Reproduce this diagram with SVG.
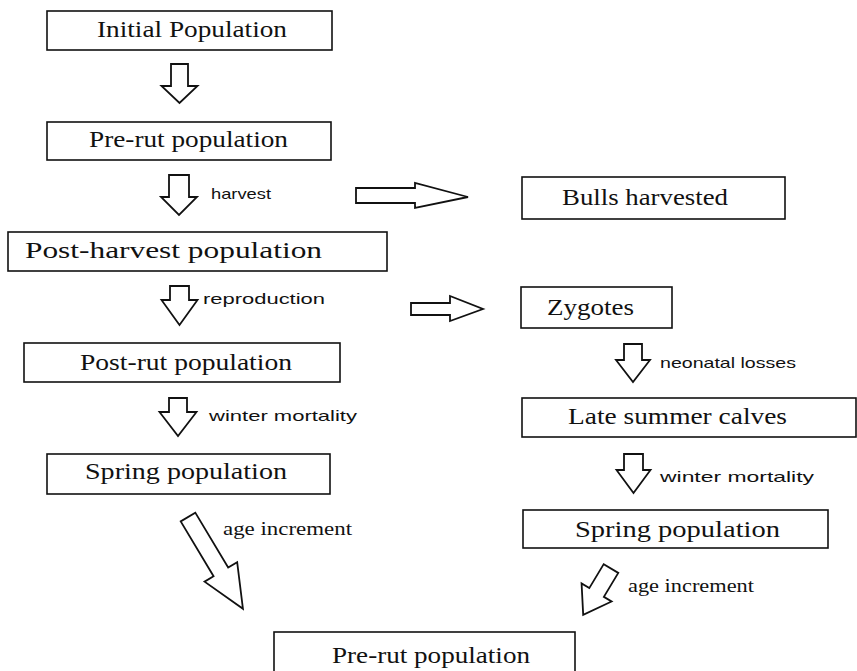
<svg xmlns="http://www.w3.org/2000/svg" width="857" height="671" viewBox="0 0 857 671">
<style>
.box{fill:#fff;stroke:#111;stroke-width:1.6}
.t{font-family:"Liberation Serif","Times New Roman",serif;font-size:23px;fill:#111}
.arr{fill:#fff;stroke:#111;stroke-width:1.8;stroke-linejoin:miter}
.lb{font-family:"Liberation Sans",Arial,sans-serif;font-size:15px;fill:#111}
.ls{font-family:"Liberation Serif","Times New Roman",serif;font-size:18px;fill:#111}
</style>
<rect width="857" height="671" fill="#fff"/>
<g id="initial-population">
<rect class="box" x="47" y="11" width="285" height="39"/>
<text class="t" x="97" y="37" textLength="190" lengthAdjust="spacingAndGlyphs">Initial Population</text>
</g>
<g id="pre-rut-population">
<rect class="box" x="47" y="122" width="284" height="38"/>
<text class="t" x="89" y="147" textLength="199" lengthAdjust="spacingAndGlyphs">Pre-rut population</text>
</g>
<g id="bulls-harvested">
<rect class="box" x="522" y="177" width="263" height="42"/>
<text class="t" x="562" y="205" textLength="166" lengthAdjust="spacingAndGlyphs">Bulls harvested</text>
</g>
<g id="post-harvest-population">
<rect class="box" x="8" y="232" width="379" height="39"/>
<text class="t" x="25" y="258" textLength="297" lengthAdjust="spacingAndGlyphs">Post-harvest population</text>
</g>
<g id="zygotes">
<rect class="box" x="521" y="287" width="151" height="41"/>
<text class="t" x="547" y="315" textLength="87" lengthAdjust="spacingAndGlyphs">Zygotes</text>
</g>
<g id="post-rut-population">
<rect class="box" x="24" y="343" width="316" height="39"/>
<text class="t" x="80" y="370" textLength="212" lengthAdjust="spacingAndGlyphs">Post-rut population</text>
</g>
<g id="late-summer-calves">
<rect class="box" x="522" y="398" width="334" height="39"/>
<text class="t" x="568" y="424" textLength="219" lengthAdjust="spacingAndGlyphs">Late summer calves</text>
</g>
<g id="spring-population-left">
<rect class="box" x="47" y="454" width="283" height="40"/>
<text class="t" x="85" y="479" textLength="202" lengthAdjust="spacingAndGlyphs">Spring population</text>
</g>
<g id="spring-population-right">
<rect class="box" x="523" y="510" width="305" height="38"/>
<text class="t" x="575" y="537" textLength="205" lengthAdjust="spacingAndGlyphs">Spring population</text>
</g>
<g id="pre-rut-population-next">
<rect class="box" x="274" y="632" width="301" height="45"/>
<text class="t" x="332" y="663" textLength="198" lengthAdjust="spacingAndGlyphs">Pre-rut population</text>
</g>
<g id="connectors">
<polygon class="arr" points="171,64 188,64 188,86 197.5,86 179.5,103 161.5,86 171,86"/>
<polygon class="arr" points="169,175 189,175 189,197 197,197 179,215 161,197 169,197"/>
<text class="lb" x="211" y="199" textLength="60" lengthAdjust="spacingAndGlyphs">harvest</text>
<polygon class="arr" points="356,188 415,188 415,183 468,197 415,208 415,203 356,203"/>
<polygon class="arr" points="170,286 189,286 189,300 197.5,300 179.5,325 161.5,300 170,300"/>
<text class="lb" x="203" y="304" textLength="122" lengthAdjust="spacingAndGlyphs">reproduction</text>
<polygon class="arr" points="411,303 450,303 450,296 483,309 450,321 450,315 411,315"/>
<polygon class="arr" points="169,398 187,398 187,412 196.5,412 178,436 159.5,412 169,412"/>
<text class="lb" x="209" y="421" textLength="148" lengthAdjust="spacingAndGlyphs">winter mortality</text>
<polygon class="arr" points="624,344 642,344 642,360 650,360 633,382 616,360 624,360"/>
<text class="lb" x="660" y="368" textLength="136" lengthAdjust="spacingAndGlyphs">neonatal losses</text>
<polygon class="arr" points="624,454 643,454 643,470 650.5,470 633.5,493 616.5,470 624,470"/>
<text class="lb" x="660" y="482" textLength="154" lengthAdjust="spacingAndGlyphs">winter mortality</text>
<polygon class="arr" transform="translate(188,517) rotate(59.1)" points="0,-8.5 64,-8.5 64,-19 107,0 64,19 64,8.5 0,8.5"/>
<text class="ls" x="223" y="535" textLength="129" lengthAdjust="spacingAndGlyphs">age increment</text>
<polygon class="arr" transform="translate(611,568.5) rotate(121)" points="0,-8.5 28,-8.5 28,-17.5 54,0 28,17.5 28,8.5 0,8.5"/>
<text class="ls" x="628" y="592" textLength="126" lengthAdjust="spacingAndGlyphs">age increment</text>
</g>
</svg>
